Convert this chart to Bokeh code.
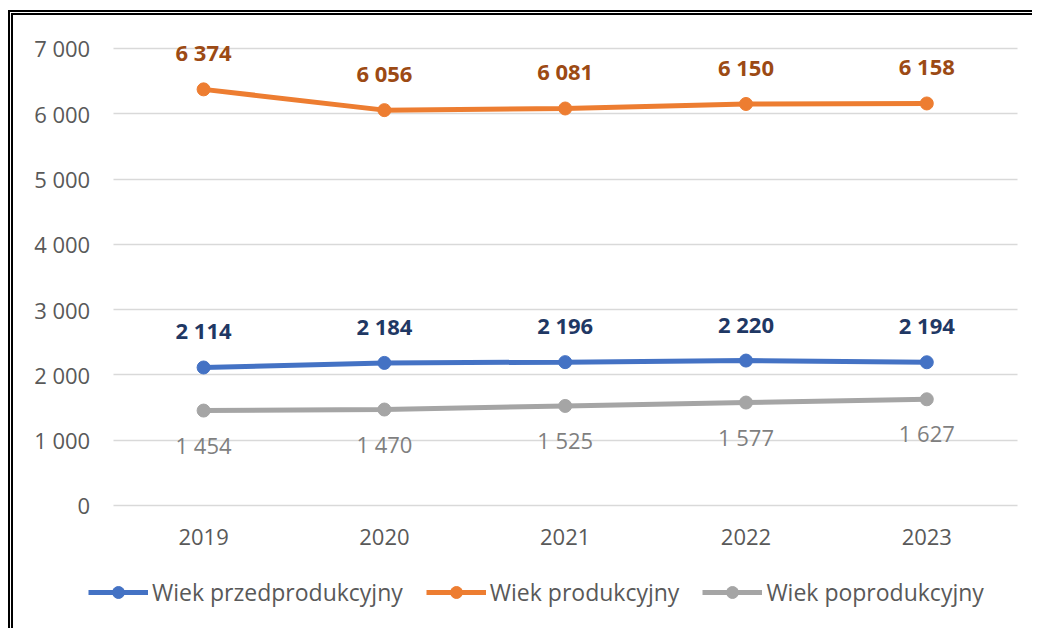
from bokeh.plotting import figure
from bokeh.models import (ColumnDataSource, LabelSet, FixedTicker, Legend,
                          LegendItem, Range1d)
from bokeh.core.properties import value
from bokeh.embed import file_html
from bokeh.resources import INLINE

# ---- data ----
years = ["2019", "2020", "2021", "2022", "2023"]
pre_prod = [2114, 2184, 2196, 2220, 2194]      # Wiek przedprodukcyjny
prod = [6374, 6056, 6081, 6150, 6158]          # Wiek produkcyjny
post_prod = [1454, 1470, 1525, 1577, 1627]     # Wiek poprodukcyjny
series_names = ["Wiek przedprodukcyjny", "Wiek produkcyjny", "Wiek poprodukcyjny"]
y_ticks = [0, 1000, 2000, 3000, 4000, 5000, 6000, 7000]
y_tick_labels = ["0", "1 000", "2 000", "3 000", "4 000", "5 000", "6 000", "7 000"]


def fmt(v):
    return f"{v:,}".replace(",", " ")


FONT = "Open Sans"
TICK_COLOR = "#595959"
xpos = list(range(len(years)))          # category slots 0..n-1
n = len(years)

p = figure(width=1024, height=618, output_backend="svg", toolbar_location=None,
           x_range=Range1d(-1.0514, n - 0.3877), y_range=Range1d(-1960.6, 7505.4),
           min_border_left=0, min_border_top=0, min_border_right=0,
           min_border_bottom=0)
p.styles = {"border-top": "5px double black", "border-left": "5px double black",
            "margin-left": "8px", "margin-top": "10px"}
p.outline_line_color = None
p.background_fill_color = "white"
p.border_fill_color = "white"

p.xgrid.grid_line_color = None
p.ygrid.grid_line_color = "#D9D9D9"
p.ygrid.grid_line_width = 1.3
p.ygrid.cross_bounds = (-0.5, n - 0.5)

p.yaxis.ticker = FixedTicker(ticks=y_ticks)
p.yaxis.major_label_overrides = {t: l for t, l in zip(y_ticks, y_tick_labels)}
p.yaxis.fixed_location = -0.5
p.xaxis.ticker = FixedTicker(ticks=xpos)
p.xaxis.major_label_overrides = {i: y for i, y in zip(xpos, years)}
p.xaxis.fixed_location = 0
for ax in (p.xaxis, p.yaxis):
    ax.axis_line_color = None
    ax.major_tick_line_color = None
    ax.minor_tick_line_color = None
    ax.major_label_text_font = FONT
    ax.major_label_text_font_size = "22px"
    ax.major_label_text_color = TICK_COLOR
p.yaxis.major_label_standoff = 17
p.xaxis.major_label_standoff = 18

series = [
    (pre_prod, "#4472C4", "#1F3864", "bold", 37),
    (prod, "#ED7D31", "#9C4A14", "bold", 37),
    (post_prod, "#A5A5A5", "#7F7F7F", "normal", -34),
]

items = []
for (vals, color, lcolor, lstyle, yoff), name in zip(series, series_names):
    src = ColumnDataSource(dict(x=xpos, val=vals, label=[fmt(v) for v in vals]))
    r_line = p.line("x", "val", source=src, line_color=color, line_width=5)
    r_pt = p.scatter("x", "val", source=src, size=13, fill_color=color,
                     line_color=color, marker="circle")
    labels = LabelSet(x="x", y="val", text="label", source=src, y_offset=yoff,
                      text_align="center", text_baseline="middle",
                      text_font=value(FONT), text_font_size="22px",
                      text_font_style=lstyle, text_color=lcolor)
    p.add_layout(labels)
    items.append(LegendItem(label=name, renderers=[r_line, r_pt]))

legend = Legend(items=items, orientation="horizontal", location=(75, 25),
                glyph_width=60, glyph_height=30, label_standoff=4, spacing=23,
                padding=0, margin=0, border_line_color=None,
                background_fill_alpha=0, label_text_font=FONT,
                label_text_font_size="23px", label_text_color=TICK_COLOR)
p.add_layout(legend, "center")

open("out.html", "w").write(file_html(p, INLINE))
